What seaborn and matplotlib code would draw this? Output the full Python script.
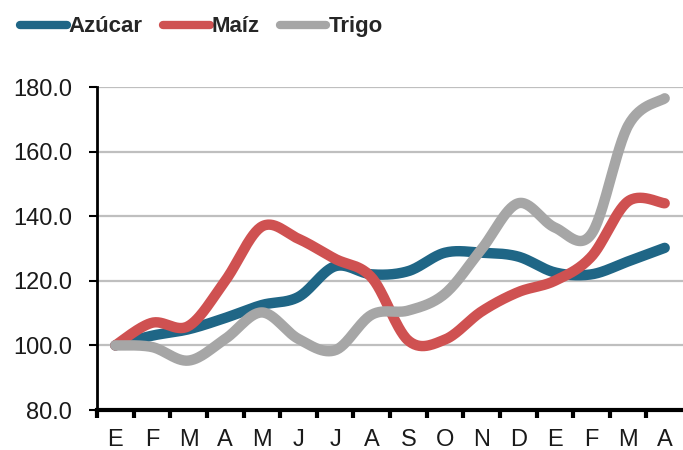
import matplotlib
matplotlib.use("Agg")
import matplotlib.pyplot as plt
import numpy as np
import pandas as pd
import seaborn as sns
from matplotlib.lines import Line2D
from matplotlib.ticker import FixedLocator

months = ["E", "F", "M", "A", "M", "J", "J", "A", "S", "O", "N", "D", "E", "F", "M", "A"]
azucar = [100, 103, 105, 108.5, 112.5, 115, 124.5, 122, 123, 128.7, 128.7, 127.5, 122.6, 122, 126, 130.2]
maiz = [100, 107, 106, 120, 136.8, 133, 126.8, 121, 101.5, 101.8, 110.5, 116.5, 120, 127.5, 144.6, 144]
trigo = [100, 99.5, 95.3, 102, 110.2, 102, 98.5, 109.5, 110.8, 116, 129.8, 144, 136.5, 134.5, 168, 176.5]

series_names = ["Azúcar", "Maíz", "Trigo"]
colors = ["#1F6686", "#CF5151", "#A6A6A6"]


def smooth(y, steps=30):
    # Excel-style smoothed line: cubic Bezier with Catmull-Rom control points
    y = np.asarray(y, dtype=float)
    x = np.arange(len(y), dtype=float)
    pts = np.column_stack([x, y])
    padded = np.vstack([pts[0], pts, pts[-1]])
    out = []
    t = np.linspace(0, 1, steps, endpoint=False)[:, None]
    for i in range(len(pts) - 1):
        p0, p1, p2, p3 = padded[i], padded[i + 1], padded[i + 2], padded[i + 3]
        c1 = p1 + (p2 - p0) / 6
        c2 = p2 - (p3 - p1) / 6
        seg = ((1 - t) ** 3) * p1 + 3 * ((1 - t) ** 2) * t * c1 + 3 * (1 - t) * t ** 2 * c2 + t ** 3 * p2
        out.append(seg)
    out.append(pts[-1][None, :])
    return np.vstack(out)


sns.set_theme(style="white")
plt.rcParams["font.family"] = ["Liberation Sans", "DejaVu Sans"]

fig = plt.figure(figsize=(6.83, 4.5), dpi=100)
ax = fig.add_axes([97 / 683, 40 / 450, 586 / 683, 323 / 450])

frames = []
for name, vals in zip(series_names, [azucar, maiz, trigo]):
    curve = smooth(vals)
    frames.append(pd.DataFrame({"x": curve[:, 0], "y": curve[:, 1], "serie": name}))
df = pd.concat(frames, ignore_index=True)

for name, color in zip(series_names, colors):
    sub = df[df["serie"] == name]
    sns.lineplot(data=sub, x="x", y="y", color=color, linewidth=7.5, ax=ax,
                 sort=False, estimator=None, solid_capstyle="round")

ax.set_xlim(-0.5, len(months) - 0.5)
ax.set_ylim(80, 180)
ax.set_yticks(np.arange(80, 181, 20))
ax.set_yticklabels([f"{v:.1f}" for v in np.arange(80, 181, 20)])
ax.set_xticks(np.arange(len(months)))
ax.set_xticklabels(months)
ax.xaxis.set_minor_locator(FixedLocator(np.arange(len(months)) - 0.5))
ax.set_xlabel("")
ax.set_ylabel("")

ax.grid(axis="y", color="#BFBFBF", linewidth=1.6)
ax.set_axisbelow(True)
for side in ["top", "right"]:
    ax.spines[side].set_visible(False)
ax.spines["left"].set_color("black")
ax.spines["left"].set_linewidth(2)
ax.spines["bottom"].set_color("black")
ax.spines["bottom"].set_linewidth(3)

ax.tick_params(axis="y", which="major", direction="out", length=6, width=1.5,
               color="black", labelsize=17, pad=12, labelcolor="#1a1a1a", left=True)
ax.tick_params(axis="x", which="major", length=0, labelsize=17, pad=14, labelcolor="#1a1a1a")
ax.tick_params(axis="x", which="minor", direction="out", length=6, width=3,
               color="black", bottom=True)

handles = [Line2D([0], [0], color=c, linewidth=6, solid_capstyle="round") for c in colors]
leg = fig.legend(handles, series_names, loc="upper left", bbox_to_anchor=(0.0, 1.008),
                 ncol=3, frameon=False, handlelength=2.1, handletextpad=0.1,
                 columnspacing=0.9, prop={"weight": "bold", "size": 16})

fig.savefig("out.png", dpi=100)
